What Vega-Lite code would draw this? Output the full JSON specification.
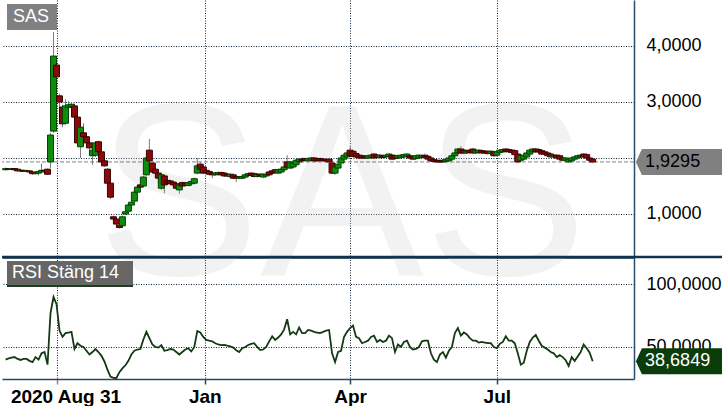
{
  "$schema": "https://vega.github.io/schema/vega-lite/v6.json",
  "padding": 0,
  "autosize": {"type": "pad"},
  "background": "white",
  "spacing": 0,
  "bounds": "flush",
  "config": {
    "locale": {"number": {"decimal": ",", "thousands": ".", "grouping": [3], "currency": ["", " kr"]}},
    "view": {"stroke": null},
    "font": "Liberation Sans",
    "axis": {"labelFont": "Liberation Sans", "labelColor": "#000000", "labelFontSize": 18, "ticks": false, "labelFlush": false}
  },
  "datasets": {
    "px": [
      {"i":0,"o":1.79,"h":1.83,"l":1.78,"c":1.81,"r":40},
      {"i":1,"o":1.81,"h":1.82,"l":1.79,"c":1.80,"r":41},
      {"i":2,"o":1.80,"h":1.82,"l":1.79,"c":1.81,"r":41.5},
      {"i":3,"o":1.81,"h":1.82,"l":1.78,"c":1.79,"r":42},
      {"i":4,"o":1.80,"h":1.81,"l":1.76,"c":1.77,"r":40.5},
      {"i":5,"o":1.77,"h":1.79,"l":1.76,"c":1.78,"r":39.7},
      {"i":6,"o":1.78,"h":1.79,"l":1.75,"c":1.76,"r":40.5},
      {"i":7,"o":1.76,"h":1.78,"l":1.75,"c":1.77,"r":40.5},
      {"i":8,"o":1.77,"h":1.78,"l":1.74,"c":1.75,"r":39},
      {"i":9,"o":1.75,"h":1.76,"l":1.70,"c":1.72,"r":38},
      {"i":10,"o":1.72,"h":1.74,"l":1.71,"c":1.73,"r":42},
      {"i":11,"o":1.73,"h":1.77,"l":1.69,"c":1.76,"r":40},
      {"i":12,"o":1.75,"h":1.90,"l":1.74,"c":1.78,"r":45},
      {"i":13,"o":1.78,"h":1.79,"l":1.75,"c":1.77,"r":46},
      {"i":14,"o":1.80,"h":1.81,"l":1.70,"c":1.71,"r":36},
      {"i":15,"o":1.93,"h":2.45,"l":1.82,"c":2.41,"r":77},
      {"i":16,"o":2.48,"h":4.25,"l":2.45,"c":3.82,"r":89.7},
      {"i":17,"o":3.66,"h":3.72,"l":3.20,"c":3.45,"r":84},
      {"i":18,"o":3.11,"h":3.15,"l":2.90,"c":3.00,"r":63},
      {"i":19,"o":2.91,"h":2.95,"l":2.55,"c":2.61,"r":58},
      {"i":20,"o":2.62,"h":3.05,"l":2.60,"c":2.93,"r":61},
      {"i":21,"o":2.90,"h":3.02,"l":2.88,"c":2.95,"r":61.5},
      {"i":22,"o":2.92,"h":3.00,"l":2.85,"c":2.96,"r":62},
      {"i":23,"o":2.93,"h":2.97,"l":2.70,"c":2.73,"r":48.5},
      {"i":24,"o":2.73,"h":2.78,"l":2.25,"c":2.27,"r":53},
      {"i":25,"o":2.20,"h":2.58,"l":2.00,"c":2.55,"r":51},
      {"i":26,"o":2.45,"h":2.62,"l":2.35,"c":2.38,"r":50},
      {"i":27,"o":2.38,"h":2.42,"l":2.22,"c":2.27,"r":47},
      {"i":28,"o":2.27,"h":2.30,"l":2.12,"c":2.18,"r":44},
      {"i":29,"o":2.04,"h":2.16,"l":1.88,"c":2.14,"r":46},
      {"i":30,"o":2.05,"h":2.30,"l":2.02,"c":2.27,"r":48.4},
      {"i":31,"o":2.29,"h":2.31,"l":2.08,"c":2.11,"r":46},
      {"i":32,"o":2.11,"h":2.13,"l":1.90,"c":1.93,"r":43},
      {"i":33,"o":1.95,"h":1.97,"l":1.84,"c":1.86,"r":38.5},
      {"i":34,"o":1.80,"h":1.82,"l":1.53,"c":1.55,"r":32},
      {"i":35,"o":1.55,"h":1.57,"l":1.27,"c":1.30,"r":26.5},
      {"i":36,"o":0.95,"h":0.97,"l":0.90,"c":0.91,"r":25.5},
      {"i":37,"o":0.91,"h":0.92,"l":0.80,"c":0.82,"r":25.4},
      {"i":38,"o":0.80,"h":0.81,"l":0.74,"c":0.76,"r":30},
      {"i":39,"o":0.79,"h":0.97,"l":0.76,"c":0.95,"r":33},
      {"i":40,"o":1.00,"h":1.06,"l":0.98,"c":1.04,"r":35.5},
      {"i":41,"o":1.05,"h":1.18,"l":1.03,"c":1.16,"r":39},
      {"i":42,"o":1.16,"h":1.23,"l":1.14,"c":1.21,"r":44},
      {"i":43,"o":1.23,"h":1.41,"l":1.21,"c":1.39,"r":47},
      {"i":44,"o":1.39,"h":1.52,"l":1.36,"c":1.48,"r":48},
      {"i":45,"o":1.52,"h":1.54,"l":1.46,"c":1.48,"r":48.4},
      {"i":46,"o":1.50,"h":1.68,"l":1.48,"c":1.66,"r":56},
      {"i":47,"o":1.70,"h":2.02,"l":1.68,"c":2.00,"r":62},
      {"i":48,"o":2.14,"h":2.34,"l":1.93,"c":1.95,"r":57},
      {"i":49,"o":1.91,"h":1.93,"l":1.73,"c":1.75,"r":52},
      {"i":50,"o":1.80,"h":1.82,"l":1.70,"c":1.73,"r":50},
      {"i":51,"o":1.73,"h":1.75,"l":1.55,"c":1.64,"r":49.5},
      {"i":52,"o":1.46,"h":1.72,"l":1.43,"c":1.70,"r":51.5},
      {"i":53,"o":1.68,"h":1.70,"l":1.37,"c":1.52,"r":47},
      {"i":54,"o":1.60,"h":1.62,"l":1.52,"c":1.55,"r":47.5},
      {"i":55,"o":1.59,"h":1.61,"l":1.52,"c":1.54,"r":48.4},
      {"i":56,"o":1.57,"h":1.59,"l":1.50,"c":1.52,"r":48},
      {"i":57,"o":1.54,"h":1.56,"l":1.44,"c":1.46,"r":46},
      {"i":58,"o":1.43,"h":1.54,"l":1.36,"c":1.52,"r":44},
      {"i":59,"o":1.56,"h":1.58,"l":1.48,"c":1.50,"r":46},
      {"i":60,"o":1.55,"h":1.57,"l":1.49,"c":1.51,"r":48},
      {"i":61,"o":1.51,"h":1.58,"l":1.49,"c":1.56,"r":49},
      {"i":62,"o":1.54,"h":1.60,"l":1.52,"c":1.58,"r":46.5},
      {"i":63,"o":1.55,"h":1.65,"l":1.53,"c":1.63,"r":50},
      {"i":64,"o":1.73,"h":2.00,"l":1.71,"c":1.86,"r":62.7},
      {"i":65,"o":1.89,"h":1.93,"l":1.78,"c":1.80,"r":61.5},
      {"i":66,"o":1.84,"h":1.86,"l":1.71,"c":1.73,"r":58},
      {"i":67,"o":1.78,"h":1.80,"l":1.72,"c":1.74,"r":55.6},
      {"i":68,"o":1.76,"h":1.77,"l":1.69,"c":1.71,"r":55},
      {"i":69,"o":1.73,"h":1.75,"l":1.64,"c":1.70,"r":54.5},
      {"i":70,"o":1.70,"h":1.75,"l":1.68,"c":1.73,"r":53},
      {"i":71,"o":1.71,"h":1.76,"l":1.69,"c":1.74,"r":52},
      {"i":72,"o":1.74,"h":1.76,"l":1.68,"c":1.70,"r":51.5},
      {"i":73,"o":1.73,"h":1.75,"l":1.66,"c":1.68,"r":51.6},
      {"i":74,"o":1.71,"h":1.73,"l":1.66,"c":1.68,"r":51},
      {"i":75,"o":1.67,"h":1.73,"l":1.65,"c":1.71,"r":50.5},
      {"i":76,"o":1.70,"h":1.72,"l":1.62,"c":1.64,"r":49.5},
      {"i":77,"o":1.67,"h":1.69,"l":1.57,"c":1.64,"r":47.5},
      {"i":78,"o":1.64,"h":1.68,"l":1.62,"c":1.66,"r":46},
      {"i":79,"o":1.64,"h":1.69,"l":1.62,"c":1.67,"r":49},
      {"i":80,"o":1.66,"h":1.72,"l":1.64,"c":1.70,"r":50},
      {"i":81,"o":1.69,"h":1.74,"l":1.67,"c":1.72,"r":51.6},
      {"i":82,"o":1.73,"h":1.75,"l":1.67,"c":1.69,"r":52.5},
      {"i":83,"o":1.72,"h":1.74,"l":1.65,"c":1.67,"r":53},
      {"i":84,"o":1.67,"h":1.73,"l":1.65,"c":1.71,"r":50},
      {"i":85,"o":1.71,"h":1.73,"l":1.66,"c":1.68,"r":47.6},
      {"i":86,"o":1.66,"h":1.73,"l":1.64,"c":1.71,"r":48},
      {"i":87,"o":1.68,"h":1.73,"l":1.66,"c":1.71,"r":50},
      {"i":88,"o":1.75,"h":1.77,"l":1.68,"c":1.70,"r":54.5},
      {"i":89,"o":1.77,"h":1.79,"l":1.71,"c":1.73,"r":58.5},
      {"i":90,"o":1.79,"h":1.81,"l":1.72,"c":1.74,"r":55.6},
      {"i":91,"o":1.73,"h":1.81,"l":1.71,"c":1.79,"r":57.5},
      {"i":92,"o":1.75,"h":1.82,"l":1.73,"c":1.80,"r":60},
      {"i":93,"o":1.79,"h":1.86,"l":1.77,"c":1.84,"r":64},
      {"i":94,"o":1.93,"h":2.05,"l":1.82,"c":1.84,"r":72},
      {"i":95,"o":1.82,"h":1.95,"l":1.80,"c":1.93,"r":60},
      {"i":96,"o":1.84,"h":1.93,"l":1.82,"c":1.91,"r":62},
      {"i":97,"o":1.88,"h":1.98,"l":1.86,"c":1.96,"r":60},
      {"i":98,"o":1.93,"h":2.00,"l":1.91,"c":1.98,"r":65.5},
      {"i":99,"o":1.98,"h":2.01,"l":1.93,"c":1.95,"r":61},
      {"i":100,"o":1.99,"h":2.01,"l":1.94,"c":1.96,"r":61},
      {"i":101,"o":1.95,"h":2.01,"l":1.93,"c":1.99,"r":63.5},
      {"i":102,"o":1.96,"h":2.02,"l":1.94,"c":2.00,"r":63},
      {"i":103,"o":2.00,"h":2.02,"l":1.93,"c":1.95,"r":62},
      {"i":104,"o":1.99,"h":2.01,"l":1.93,"c":1.95,"r":61.5},
      {"i":105,"o":1.99,"h":2.01,"l":1.94,"c":1.96,"r":61},
      {"i":106,"o":1.98,"h":2.00,"l":1.93,"c":1.95,"r":62},
      {"i":107,"o":1.97,"h":1.99,"l":1.93,"c":1.95,"r":63},
      {"i":108,"o":1.98,"h":2.00,"l":1.91,"c":1.93,"r":63.5},
      {"i":109,"o":1.91,"h":1.93,"l":1.71,"c":1.73,"r":45},
      {"i":110,"o":1.73,"h":1.86,"l":1.70,"c":1.84,"r":38},
      {"i":111,"o":1.82,"h":1.91,"l":1.80,"c":1.89,"r":46},
      {"i":112,"o":1.91,"h":2.02,"l":1.89,"c":2.00,"r":47},
      {"i":113,"o":1.98,"h":2.07,"l":1.96,"c":2.05,"r":58},
      {"i":114,"o":2.02,"h":2.11,"l":2.00,"c":2.09,"r":62},
      {"i":115,"o":2.14,"h":2.21,"l":2.02,"c":2.04,"r":65},
      {"i":116,"o":2.12,"h":2.14,"l":2.01,"c":2.03,"r":67},
      {"i":117,"o":2.08,"h":2.10,"l":2.00,"c":2.02,"r":58},
      {"i":118,"o":2.05,"h":2.07,"l":1.98,"c":2.00,"r":57},
      {"i":119,"o":2.04,"h":2.06,"l":1.98,"c":2.00,"r":53},
      {"i":120,"o":2.03,"h":2.05,"l":1.98,"c":2.00,"r":54},
      {"i":121,"o":2.00,"h":2.06,"l":1.98,"c":2.04,"r":55},
      {"i":122,"o":2.01,"h":2.07,"l":1.99,"c":2.05,"r":58},
      {"i":123,"o":2.07,"h":2.09,"l":1.98,"c":2.00,"r":59},
      {"i":124,"o":2.05,"h":2.07,"l":1.99,"c":2.01,"r":54},
      {"i":125,"o":2.01,"h":2.07,"l":1.99,"c":2.05,"r":55.6},
      {"i":126,"o":2.04,"h":2.06,"l":1.99,"c":2.01,"r":54},
      {"i":127,"o":2.02,"h":2.07,"l":2.00,"c":2.05,"r":55},
      {"i":128,"o":2.03,"h":2.09,"l":2.01,"c":2.07,"r":59},
      {"i":129,"o":2.05,"h":2.07,"l":1.96,"c":1.98,"r":57},
      {"i":130,"o":2.04,"h":2.06,"l":1.97,"c":1.99,"r":46},
      {"i":131,"o":2.00,"h":2.06,"l":1.98,"c":2.04,"r":52},
      {"i":132,"o":2.01,"h":2.07,"l":1.99,"c":2.05,"r":50},
      {"i":133,"o":2.02,"h":2.08,"l":2.00,"c":2.06,"r":54},
      {"i":134,"o":2.03,"h":2.09,"l":2.01,"c":2.07,"r":55},
      {"i":135,"o":2.04,"h":2.06,"l":1.98,"c":2.00,"r":50},
      {"i":136,"o":2.02,"h":2.04,"l":1.96,"c":1.98,"r":48},
      {"i":137,"o":1.99,"h":2.06,"l":1.97,"c":2.04,"r":48.5},
      {"i":138,"o":2.00,"h":2.07,"l":1.98,"c":2.05,"r":50},
      {"i":139,"o":2.01,"h":2.06,"l":1.99,"c":2.04,"r":54.5},
      {"i":140,"o":2.05,"h":2.08,"l":2.00,"c":2.02,"r":55},
      {"i":141,"o":2.03,"h":2.05,"l":1.96,"c":1.98,"r":55},
      {"i":142,"o":2.00,"h":2.02,"l":1.93,"c":1.95,"r":45},
      {"i":143,"o":1.97,"h":1.99,"l":1.92,"c":1.94,"r":40},
      {"i":144,"o":1.96,"h":1.98,"l":1.91,"c":1.93,"r":38},
      {"i":145,"o":1.95,"h":1.97,"l":1.91,"c":1.93,"r":44},
      {"i":146,"o":1.96,"h":1.98,"l":1.91,"c":1.93,"r":46},
      {"i":147,"o":1.94,"h":1.99,"l":1.92,"c":1.97,"r":41.5},
      {"i":148,"o":1.95,"h":2.02,"l":1.93,"c":2.00,"r":47},
      {"i":149,"o":1.98,"h":2.06,"l":1.96,"c":2.04,"r":50},
      {"i":150,"o":2.04,"h":2.11,"l":2.02,"c":2.09,"r":61},
      {"i":151,"o":2.09,"h":2.18,"l":2.07,"c":2.16,"r":65},
      {"i":152,"o":2.16,"h":2.21,"l":2.07,"c":2.09,"r":59},
      {"i":153,"o":2.14,"h":2.16,"l":2.07,"c":2.09,"r":61.5},
      {"i":154,"o":2.09,"h":2.14,"l":2.07,"c":2.12,"r":60},
      {"i":155,"o":2.14,"h":2.16,"l":2.08,"c":2.10,"r":57},
      {"i":156,"o":2.16,"h":2.18,"l":2.07,"c":2.09,"r":55},
      {"i":157,"o":2.09,"h":2.15,"l":2.07,"c":2.13,"r":55},
      {"i":158,"o":2.10,"h":2.16,"l":2.08,"c":2.14,"r":53.5},
      {"i":159,"o":2.13,"h":2.15,"l":2.07,"c":2.09,"r":54},
      {"i":160,"o":2.12,"h":2.14,"l":2.07,"c":2.09,"r":53.5},
      {"i":161,"o":2.12,"h":2.14,"l":2.06,"c":2.08,"r":53},
      {"i":162,"o":2.08,"h":2.14,"l":2.06,"c":2.12,"r":53},
      {"i":163,"o":2.11,"h":2.13,"l":2.02,"c":2.04,"r":50},
      {"i":164,"o":2.05,"h":2.13,"l":2.03,"c":2.11,"r":49},
      {"i":165,"o":2.10,"h":2.16,"l":2.08,"c":2.14,"r":52.5},
      {"i":166,"o":2.11,"h":2.17,"l":2.09,"c":2.15,"r":54},
      {"i":167,"o":2.16,"h":2.18,"l":2.10,"c":2.12,"r":58.5},
      {"i":168,"o":2.15,"h":2.17,"l":2.09,"c":2.11,"r":55},
      {"i":169,"o":2.14,"h":2.16,"l":2.08,"c":2.10,"r":55},
      {"i":170,"o":2.13,"h":2.15,"l":2.04,"c":2.06,"r":53},
      {"i":171,"o":2.07,"h":2.09,"l":1.91,"c":1.93,"r":45},
      {"i":172,"o":1.96,"h":2.06,"l":1.94,"c":2.04,"r":36},
      {"i":173,"o":1.98,"h":2.07,"l":1.96,"c":2.05,"r":37.5},
      {"i":174,"o":2.02,"h":2.11,"l":2.00,"c":2.09,"r":47},
      {"i":175,"o":2.07,"h":2.16,"l":2.05,"c":2.14,"r":54},
      {"i":176,"o":2.11,"h":2.18,"l":2.09,"c":2.16,"r":57.5},
      {"i":177,"o":2.16,"h":2.18,"l":2.09,"c":2.11,"r":59.5},
      {"i":178,"o":2.15,"h":2.17,"l":2.09,"c":2.11,"r":55},
      {"i":179,"o":2.13,"h":2.15,"l":2.05,"c":2.07,"r":51},
      {"i":180,"o":2.11,"h":2.13,"l":2.05,"c":2.07,"r":49.5},
      {"i":181,"o":2.09,"h":2.11,"l":2.02,"c":2.04,"r":48},
      {"i":182,"o":2.07,"h":2.09,"l":2.00,"c":2.02,"r":46},
      {"i":183,"o":2.02,"h":2.07,"l":2.00,"c":2.05,"r":45},
      {"i":184,"o":2.05,"h":2.07,"l":1.98,"c":2.00,"r":42},
      {"i":185,"o":2.04,"h":2.06,"l":1.96,"c":1.98,"r":43.5},
      {"i":186,"o":2.00,"h":2.02,"l":1.94,"c":1.96,"r":42},
      {"i":187,"o":1.96,"h":2.02,"l":1.94,"c":2.00,"r":39.5},
      {"i":188,"o":1.93,"h":2.00,"l":1.91,"c":1.98,"r":35},
      {"i":189,"o":1.95,"h":2.02,"l":1.93,"c":2.00,"r":42},
      {"i":190,"o":1.98,"h":2.04,"l":1.96,"c":2.02,"r":39},
      {"i":191,"o":2.00,"h":2.06,"l":1.98,"c":2.04,"r":42.5},
      {"i":192,"o":2.02,"h":2.07,"l":2.00,"c":2.05,"r":46},
      {"i":193,"o":2.07,"h":2.09,"l":2.00,"c":2.02,"r":52},
      {"i":194,"o":2.06,"h":2.08,"l":1.98,"c":2.00,"r":49},
      {"i":195,"o":2.00,"h":2.02,"l":1.94,"c":1.96,"r":45.5},
      {"i":196,"o":1.98,"h":2.00,"l":1.91,"c":1.9295,"r":38.6849}
    ]
  },
  "vconcat": [
    {
      "width": 632,
      "height": 257,
      "layer": [
        {
          "data": {"values": [{}]},
          "mark": {"type": "text", "text": "SAS", "font": "Liberation Sans", "fontSize": 245, "fill": "#cfcfcf", "opacity": 0.25, "align": "center", "baseline": "alphabetic"},
          "encoding": {
            "x": {"datum": 112.3, "type": "quantitative", "title": null, "scale": {"domain": [-1.2, 209.8], "nice": false, "zero": false, "padding": 0}},
            "y": {"datum": -0.09, "type": "quantitative", "title": null, "scale": {"domain": [0.2321, 4.8214], "nice": false, "zero": false}}
          }
        },
        {
          "data": {"values": [{}]},
          "mark": {"type": "rect", "fill": "#808080"},
          "encoding": {
            "x": {"datum": 0.47, "type": "quantitative", "title": null},
            "x2": {"datum": 17.16},
            "y": {"datum": 4.75, "type": "quantitative", "title": null},
            "y2": {"datum": 4.286}
          }
        },
        {
          "data": {"values": [{}]},
          "mark": {"type": "text", "text": "SAS", "font": "Liberation Sans", "fontSize": 18, "fill": "#ffffff", "align": "left", "baseline": "middle"},
          "encoding": {
            "x": {"datum": 2.47, "type": "quantitative", "title": null},
            "y": {"datum": 4.518, "type": "quantitative", "title": null}
          }
        },
        {
          "data": {"name": "px"},
          "transform": [{"filter": "datum.i == 196"}],
          "mark": {"type": "rule", "stroke": "#808080", "strokeWidth": 1, "strokeDash": [4, 2]},
          "encoding": {
            "y": {"field": "c", "type": "quantitative", "title": null}
          }
        },
        {
          "data": {"name": "px"},
          "mark": {"type": "rule", "stroke": "#7a7a7a", "strokeWidth": 1},
          "encoding": {
            "x": {"field": "i", "type": "quantitative", "title": null},
            "y": {"field": "l", "type": "quantitative", "title": null},
            "y2": {"field": "h"}
          }
        },
        {
          "data": {"name": "px"},
          "mark": {"type": "bar", "size": 6, "strokeWidth": 1},
          "encoding": {
            "x": {
              "field": "i", "type": "quantitative", "title": null,
              "scale": {"domain": [-1.2, 209.8], "nice": false, "zero": false, "padding": 0},
              "axis": {"orient": "bottom", "values": [17, 66.5, 115, 164], "labels": false, "grid": true, "gridColor": "#14283c", "gridDash": [1, 1.5], "gridWidth": 1, "domainColor": "#12324d", "domainWidth": 2.5}
            },
            "y": {
              "field": "o", "type": "quantitative", "title": null,
              "scale": {"domain": [0.2321, 4.8214], "nice": false, "zero": false},
              "axis": {"orient": "right", "values": [1, 2, 3, 4], "format": ".4f", "grid": true, "gridColor": "#14283c", "gridDash": [1, 1.5], "gridWidth": 1, "domainColor": "#2b4c6f", "domainWidth": 1.5, "labelPadding": 12, "labelFontSize": 18}
            },
            "y2": {"field": "c"},
            "fill": {"condition": {"test": "datum.c >= datum.o", "value": "#0e8c0e"}, "value": "#8a0a0a"},
            "stroke": {"condition": {"test": "datum.c >= datum.o", "value": "#004400"}, "value": "#3a0000"}
          }
        },
        {
          "data": {"name": "px"},
          "transform": [{"filter": "datum.i == 196"}],
          "mark": {"type": "point", "shape": "M-1,0L-0.87,-0.283L1,-0.283L1,0.283L-0.87,0.283Z", "filled": true, "fill": "#808080", "opacity": 1, "size": 8464, "strokeWidth": 0},
          "encoding": {
            "x": {"datum": 225.8, "type": "quantitative", "title": null},
            "y": {"field": "c", "type": "quantitative", "title": null}
          }
        },
        {
          "data": {"name": "px"},
          "transform": [{"filter": "datum.i == 196"}],
          "mark": {"type": "text", "font": "Liberation Sans", "fontSize": 18, "fill": "#000000", "align": "left", "baseline": "middle"},
          "encoding": {
            "x": {"datum": 213.5, "type": "quantitative", "title": null},
            "y": {"field": "c", "type": "quantitative", "title": null},
            "text": {"field": "c", "type": "quantitative", "format": ".4f"}
          }
        }
      ]
    },
    {
      "width": 632,
      "height": 122,
      "layer": [
        {
          "data": {"values": [{}]},
          "mark": {"type": "rule", "stroke": "#12324d", "strokeWidth": 2.5},
          "encoding": {
            "x": {"datum": -1.2, "type": "quantitative", "title": null, "scale": {"domain": [-1.2, 209.8], "nice": false, "zero": false, "padding": 0}},
            "x2": {"datum": 242},
            "y": {"datum": 121.43, "type": "quantitative", "title": null, "scale": {"domain": [24.6, 121.43], "nice": false, "zero": false}}
          }
        },
        {
          "data": {"values": [{}]},
          "mark": {"type": "rect", "fill": "#666666"},
          "encoding": {
            "x": {"datum": 0.47, "type": "quantitative", "title": null},
            "x2": {"datum": 42.54},
            "y": {"datum": 118.25, "type": "quantitative", "title": null},
            "y2": {"datum": 99.2}
          }
        },
        {
          "data": {"values": [{}]},
          "mark": {"type": "rect", "fill": "#1e3d1e"},
          "encoding": {
            "x": {"datum": 0.47, "type": "quantitative", "title": null},
            "x2": {"datum": 42.54},
            "y": {"datum": 99.2, "type": "quantitative", "title": null},
            "y2": {"datum": 97.62}
          }
        },
        {
          "data": {"values": [{}]},
          "mark": {"type": "text", "text": "RSI Stäng 14", "font": "Liberation Sans", "fontSize": 18, "fill": "#ffffff", "align": "left", "baseline": "middle"},
          "encoding": {
            "x": {"datum": 2.14, "type": "quantitative", "title": null},
            "y": {"datum": 108.7, "type": "quantitative", "title": null}
          }
        },
        {
          "data": {"name": "px"},
          "mark": {"type": "line", "stroke": "#143a14", "strokeWidth": 1.8},
          "encoding": {
            "x": {
              "field": "i", "type": "quantitative", "title": null,
              "scale": {"domain": [-1.2, 209.8], "nice": false, "zero": false, "padding": 0},
              "axis": {
                "orient": "bottom", "values": [17, 66.5, 115, 164],
                "labelExpr": "datum.value == 17 ? '2020 Aug 31' : datum.value == 66.5 ? 'Jan' : datum.value == 115 ? 'Apr' : 'Jul'",
                "labelFontWeight": "bold", "labelFontSize": 19, "labelPadding": 3,
                "labelOffset": {"condition": {"test": "datum.value == 17", "value": 9}, "value": 0},
                "ticks": true, "tickSize": 5, "tickWidth": 1.5,
                "tickColor": {"condition": {"test": "datum.value == 17", "value": "#f06060"}, "value": "#27476b"},
                "grid": true, "gridColor": "#14283c", "gridDash": [1, 1.5], "gridWidth": 1,
                "domainColor": "#27476b", "domainWidth": 1.5
              }
            },
            "y": {
              "field": "r", "type": "quantitative", "title": null,
              "scale": {"domain": [24.6, 121.43], "nice": false, "zero": false},
              "axis": {"orient": "right", "values": [50, 100], "format": ".4f", "grid": true, "gridColor": "#14283c", "gridDash": [1, 1.5], "gridWidth": 1, "domainColor": "#2b4c6f", "domainWidth": 1.5, "labelPadding": 12, "labelFontSize": 18}
            }
          }
        },
        {
          "data": {"name": "px"},
          "transform": [{"filter": "datum.i == 196"}],
          "mark": {"type": "point", "shape": "M-1,0L-0.87,-0.283L1,-0.283L1,0.283L-0.87,0.283Z", "filled": true, "fill": "#0b3d0b", "opacity": 1, "size": 8464, "strokeWidth": 0},
          "encoding": {
            "x": {"datum": 225.8, "type": "quantitative", "title": null},
            "y": {"field": "r", "type": "quantitative", "title": null}
          }
        },
        {
          "data": {"name": "px"},
          "transform": [{"filter": "datum.i == 196"}],
          "mark": {"type": "text", "font": "Liberation Sans", "fontSize": 18, "fill": "#ffffff", "align": "left", "baseline": "middle"},
          "encoding": {
            "x": {"datum": 213.5, "type": "quantitative", "title": null},
            "y": {"field": "r", "type": "quantitative", "title": null},
            "text": {"field": "r", "type": "quantitative", "format": ".4f"}
          }
        }
      ]
    }
  ]
}
